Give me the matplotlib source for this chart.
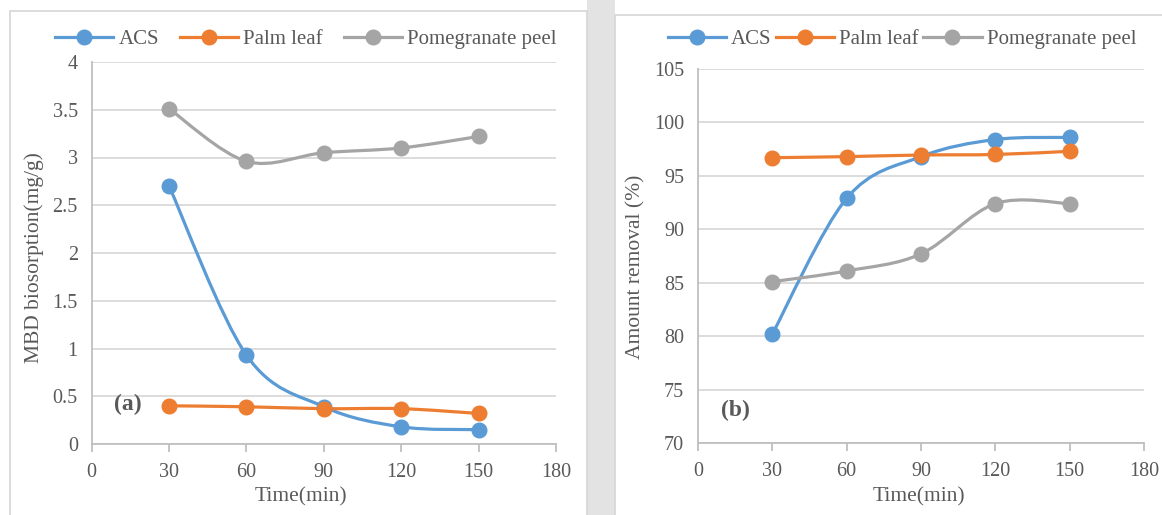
import matplotlib.pyplot as plt
import numpy as np
from matplotlib.lines import Line2D
from matplotlib.patches import PathPatch, Rectangle
from matplotlib.path import Path

plt.rcParams["font.family"] = ["Liberation Serif", "DejaVu Serif"]

time_min = [30, 60, 90, 120, 150]

# (a) biosorption, mg/g
acs_bio = [2.70, 0.93, 0.39, 0.18, 0.15]
palm_bio = [0.40, 0.39, 0.37, 0.37, 0.32]
pome_bio = [3.51, 2.96, 3.05, 3.10, 3.22]

# (b) removal, %
acs_rem = [80.2, 92.9, 96.8, 98.4, 98.6]
palm_rem = [96.7, 96.8, 96.95, 97.0, 97.3]
pome_rem = [85.1, 86.1, 87.7, 92.4, 92.4]

series_names = ["ACS", "Palm leaf", "Pomegranate peel"]
colors = ["#5B9BD5", "#ED7D31", "#A5A5A5"]
text_col = "#595959"
grid_col = "#D9D9D9"
axis_col = "#BFBFBF"


def smooth_path(x, y):
    # spreadsheet-style smoothed line: cubic Bezier segments with Catmull-Rom tangents
    pts = np.column_stack([x, y]).astype(float)
    n = len(pts)
    verts = [pts[0]]
    codes = [Path.MOVETO]
    for i in range(n - 1):
        p0 = pts[i - 1] if i > 0 else pts[i]
        p1, p2 = pts[i], pts[i + 1]
        p3 = pts[i + 2] if i + 2 < n else pts[i + 1]
        c1 = p1 + (p2 - p0) / 6.0
        c2 = p2 - (p3 - p1) / 6.0
        verts += [c1, c2, p2]
        codes += [Path.CURVE4] * 3
    return Path(verts, codes)


def draw_panel(ax, ys, ylim, ystep, ylabel, tag, tag_xy):
    for y, c in zip(ys, colors):
        ax.add_patch(PathPatch(smooth_path(time_min, y), fill=False,
                               edgecolor=c, lw=2.3, capstyle="round", zorder=3))
        ax.plot(time_min, y, ls="none", marker="o", ms=10.5, color=c, zorder=4)
    ax.set_xlim(0, 180)
    ax.set_ylim(*ylim)
    ax.set_xticks(np.arange(0, 181, 30))
    ax.set_yticks(np.arange(ylim[0], ylim[1] + 1e-9, ystep))
    ax.yaxis.grid(True, color=grid_col, lw=1.3)
    ax.set_axisbelow(True)
    for s in ("top", "right"):
        ax.spines[s].set_visible(False)
    for s in ("left", "bottom"):
        ax.spines[s].set_color(axis_col)
        ax.spines[s].set_linewidth(1.3)
    ax.tick_params(axis="x", direction="out", length=6, color=axis_col,
                   width=1.3, labelsize=14.5, labelcolor=text_col, pad=8)
    ax.tick_params(axis="y", length=0, labelsize=14.5, labelcolor=text_col, pad=10)
    ax.set_xlabel("Time(min)", fontsize=15.5, color=text_col)
    ax.set_ylabel(ylabel, fontsize=15.5, color=text_col)
    ax.text(*tag_xy, tag, fontsize=17, fontweight="bold", color=text_col,
            ha="center", va="center")


fig = plt.figure(figsize=(11.62, 5.15), dpi=100)

# panel frames and the grey strip between them
fig.patches.append(Rectangle((587 / 1162, 0), 28 / 1162, 1, transform=fig.transFigure,
                             facecolor="#E3E3E3", edgecolor="none", zorder=0))
fig.patches.append(Rectangle((10 / 1162, -0.02), 577 / 1162, 1 - 11 / 515 + 0.02,
                             transform=fig.transFigure, facecolor="white",
                             edgecolor="#D6D6D6", lw=1.2, zorder=0.5))
fig.patches.append(Rectangle((615 / 1162, -0.02), 0.5, 1 - 15 / 515 + 0.02,
                             transform=fig.transFigure, facecolor="white",
                             edgecolor="#D6D6D6", lw=1.2, zorder=0.5))

ax1 = fig.add_axes([91.7 / 1162, 1 - 444 / 515, (556 - 91.7) / 1162, (444 - 62) / 515])
ax2 = fig.add_axes([698 / 1162, 1 - 443 / 515, (1144 - 698) / 1162, (443 - 69) / 515])
for ax in (ax1, ax2):
    ax.set_facecolor("none")
    ax.set_zorder(2)

draw_panel(ax1, [acs_bio, palm_bio, pome_bio], (0, 4), 0.5,
           "MBD biosorption(mg/g)", "(a)", (14, 0.41))
draw_panel(ax2, [acs_rem, palm_rem, pome_rem], (70, 105), 5,
           "Amount removal (%)", "(b)", (15, 73))

ax1.set_yticks(np.arange(0, 4.01, 0.5))
ax1.set_yticklabels(["0", "0.5", "1", "1.5", "2", "2.5", "3", "3.5", "4"])
ax1.xaxis.set_label_coords(0.451, -0.113)
ax2.xaxis.set_label_coords(0.495, -0.118)
ax1.yaxis.set_label_coords(-0.103, 0.487)
ax2.yaxis.set_label_coords(-0.117, 0.47)

handles = [Line2D([], [], color=c, lw=2.3, marker="o", ms=10.5) for c in colors]
leg_kw = dict(frameon=False, ncol=3, fontsize=15, handlelength=2.8,
              handletextpad=0.25, labelcolor=text_col, loc="center")
fig.legend(handles, series_names, bbox_to_anchor=(306 / 1162, 1 - 39 / 515),
           columnspacing=1.0, **leg_kw).set_zorder(3)
fig.legend(handles, series_names, bbox_to_anchor=(902 / 1162, 1 - 39 / 515),
           columnspacing=0.2, **leg_kw).set_zorder(3)

fig.savefig("out.png", dpi=100)
